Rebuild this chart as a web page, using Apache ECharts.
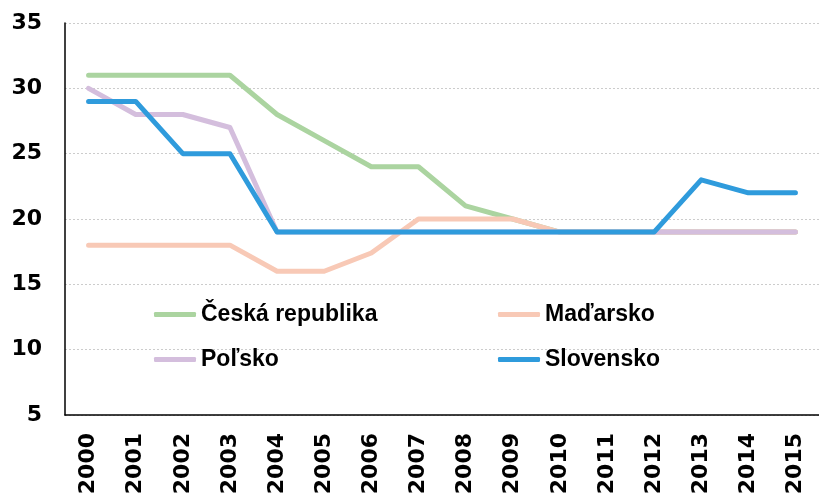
<!DOCTYPE html>
<html>
<head>
<meta charset="utf-8">
<script src="https://cdn.jsdelivr.net/npm/echarts@6/dist/echarts.min.js"></script>
<style>
    html, body { margin: 0; padding: 0; background: #fff; }
    #chart { width: 819px; height: 500px; }
</style>
</head>
<body>
<div id="chart"></div>
<script>
'use strict';

var years = ['2000', '2001', '2002', '2003', '2004', '2005', '2006', '2007',
    '2008', '2009', '2010', '2011', '2012', '2013', '2014', '2015'];
var cesko = [31, 31, 31, 31, 28, 26, 24, 24, 21, 20, 19, 19, 19, 19, 19, 19];
var madarsko = [18, 18, 18, 18, 16, 16, 17.4, 20, 20, 20, 19, 19, 19, 19, 19, 19];
var polsko = [30, 28, 28, 27, 19, 19, 19, 19, 19, 19, 19, 19, 19, 19, 19, 19];
var slovensko = [29, 29, 25, 25, 19, 19, 19, 19, 19, 19, 19, 19, 19, 23, 22, 22];

var chart = echarts.init(document.getElementById('chart'));

// jedna čiara = jedna krajina
function line(name, data, color) {
    return {
        name: name,
        type: 'line',
        data: data,
        symbol: 'none',
        color: color,
        lineStyle: { width: 5, color: color, cap: 'round', join: 'round' },
        itemStyle: { color: color }
    };
}

var legendText = {
    fontFamily: 'Liberation Sans',
    fontWeight: 'bold',
    fontSize: 23,
    color: '#000'
};

function legendBox(left, names) {
    return {
        orient: 'vertical',
        left: left,
        top: 298,
        icon: 'roundRect',
        itemWidth: 42,
        itemHeight: 5,
        itemGap: 22,
        textStyle: legendText,
        data: names
    };
}

var option = {
    animation: false,
    backgroundColor: '#fff',
    grid: { left: 65, right: -5, top: 23, bottom: 85 },
    legend: [
        legendBox(149, ['Česká republika', 'Poľsko']),
        legendBox(493, ['Maďarsko', 'Slovensko'])
    ],
    xAxis: {
        type: 'category',
        data: years,
        boundaryGap: true,
        axisLine: { lineStyle: { color: '#000', width: 1.5 } },
        axisTick: { show: false },
        axisLabel: {
            rotate: 90,
            margin: 18,
            interval: 0,
            fontFamily: 'DejaVu Sans',
            fontWeight: 'bold',
            fontSize: 22,
            color: '#000'
        }
    },
    yAxis: {
        type: 'value',
        min: 5,
        max: 35,
        interval: 5,
        axisLine: { show: true, lineStyle: { color: '#000', width: 1.5 } },
        axisTick: { show: false },
        axisLabel: {
            margin: 23,
            fontFamily: 'DejaVu Sans',
            fontWeight: 'bold',
            fontSize: 22,
            color: '#000'
        },
        splitLine: { lineStyle: { color: '#cccccc', type: [2, 2], width: 1 } }
    },
    series: [
        line('Česká republika', cesko, '#abd4a0'),
        line('Maďarsko', madarsko, '#f8c9b6'),
        line('Poľsko', polsko, '#d4bedd'),
        line('Slovensko', slovensko, '#2f9bdc')
    ]
};

chart.setOption(option);
</script>
</body>
</html>
